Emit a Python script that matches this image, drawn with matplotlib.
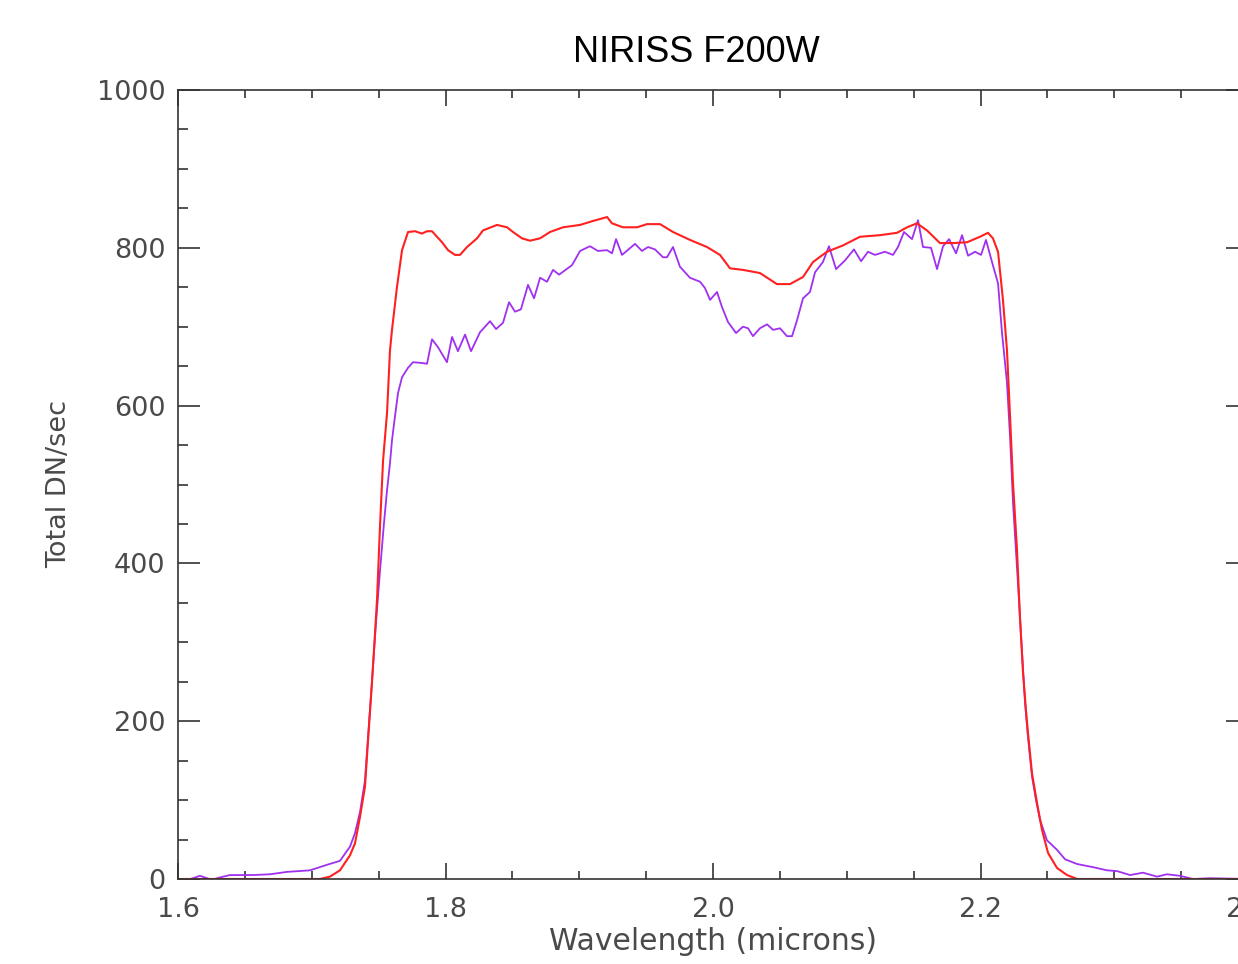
import matplotlib
matplotlib.use("Agg")
import matplotlib.pyplot as plt
from matplotlib.ticker import MultipleLocator

# model (red) throughput curve
red_wl = [1.6000, 1.7062, 1.7136, 1.7211, 1.7286, 1.7323, 1.7361, 1.7398, 1.7421,
          1.7450, 1.7473, 1.7488, 1.7510, 1.7533, 1.7563, 1.7585, 1.7600, 1.7637,
          1.7675, 1.7720, 1.7772, 1.7824, 1.7862, 1.7899, 1.7974, 1.8019, 1.8071,
          1.8108, 1.8161, 1.8236, 1.8280, 1.8385, 1.8460, 1.8505, 1.8572, 1.8632,
          1.8707, 1.8781, 1.8879, 1.9006, 1.9103, 1.9208, 1.9245, 1.9327, 1.9432,
          1.9507, 1.9604, 1.9701, 1.9828, 1.9955, 2.0052, 2.0127, 2.0224, 2.0351,
          2.0478, 2.0576, 2.0673, 2.0748, 2.0852, 2.0972, 2.1099, 2.1249, 2.1376,
          2.1451, 2.1525, 2.1600, 2.1697, 2.1794, 2.1899, 2.1996, 2.2056, 2.2093,
          2.2131, 2.2168, 2.2198, 2.2221, 2.2243, 2.2273, 2.2295, 2.2318, 2.2340,
          2.2355, 2.2385, 2.2423, 2.2460, 2.2505, 2.2572, 2.2647, 2.2722, 2.4000]
red_dn = [0, 0, 3, 11, 30, 45, 79, 117, 176,
          248, 312, 354, 446, 530, 591, 670, 696, 750,
          797, 820, 821, 818, 821, 821, 807, 797, 791,
          791, 801, 812, 822, 829, 826, 820, 812, 809,
          812, 820, 826, 829, 834, 839, 831, 826, 826,
          830, 830, 820, 810, 801, 791, 774, 772, 768,
          754, 754, 763, 782, 795, 803, 814, 816, 819,
          826, 831, 822, 806, 806, 807, 814, 819, 812,
          795, 734, 670, 586, 502, 417, 332, 261, 214,
          185, 134, 96, 62, 33, 14, 5, 0, 0]

# measured (purple) curve
pur_wl = [1.6000, 1.6075, 1.6164, 1.6254, 1.6314, 1.6389, 1.6561, 1.6688, 1.6815,
          1.6987, 1.7114, 1.7211, 1.7286, 1.7323, 1.7361, 1.7398, 1.7421, 1.7450,
          1.7480, 1.7510, 1.7540, 1.7563, 1.7585, 1.7600, 1.7622, 1.7645, 1.7675,
          1.7720, 1.7757, 1.7824, 1.7862, 1.7899, 1.7944, 1.8011, 1.8049, 1.8093,
          1.8146, 1.8191, 1.8258, 1.8333, 1.8378, 1.8430, 1.8475, 1.8520, 1.8564,
          1.8617, 1.8662, 1.8707, 1.8759, 1.8804, 1.8849, 1.8946, 1.9006, 1.9080,
          1.9140, 1.9208, 1.9245, 1.9275, 1.9320, 1.9417, 1.9469, 1.9514, 1.9566,
          1.9626, 1.9656, 1.9701, 1.9753, 1.9828, 1.9903, 1.9940, 1.9978, 2.0030,
          2.0067, 2.0112, 2.0172, 2.0224, 2.0262, 2.0299, 2.0351, 2.0404, 2.0449,
          2.0501, 2.0553, 2.0591, 2.0628, 2.0673, 2.0725, 2.0763, 2.0822, 2.0867,
          2.0920, 2.0987, 2.1054, 2.1107, 2.1159, 2.1211, 2.1286, 2.1346, 2.1383,
          2.1428, 2.1488, 2.1533, 2.1570, 2.1630, 2.1675, 2.1720, 2.1765, 2.1817,
          2.1862, 2.1907, 2.1959, 2.2004, 2.2041, 2.2086, 2.2131, 2.2161, 2.2198,
          2.2221, 2.2243, 2.2280, 2.2310, 2.2333, 2.2355, 2.2385, 2.2415, 2.2445,
          2.2497, 2.2572, 2.2632, 2.2722, 2.2841, 2.2946, 2.3021, 2.3118, 2.3215,
          2.3320, 2.3394, 2.3492, 2.3589, 2.3716, 2.4000]
pur_dn = [0, -1, 4, -1, 2, 5, 5, 6, 9,
          11, 18, 23, 41, 58, 85, 125, 180, 250,
          324, 390, 451, 493, 527, 556, 586, 616, 636,
          648, 655, 654, 653, 684, 674, 655, 687, 669,
          690, 669, 693, 707, 697, 705, 731, 719, 722,
          753, 736, 762, 757, 772, 766, 778, 796, 802,
          796, 797, 793, 811, 791, 805, 796, 801, 798,
          788, 788, 801, 776, 762, 757, 749, 734, 744,
          725, 706, 692, 700, 698, 688, 698, 703, 696,
          698, 688, 688, 708, 736, 744, 769, 782, 802,
          773, 784, 798, 783, 795, 791, 795, 791, 801,
          820, 811, 835, 801, 800, 773, 802, 811, 793,
          816, 790, 795, 791, 810, 782, 755, 692, 629,
          560, 477, 375, 290, 223, 180, 130, 100, 75,
          49, 37, 25, 19, 15, 11, 10, 5, 8,
          3, 6, 4, 0, 1, 0]

x_ticks = [1.6, 1.8, 2.0, 2.2, 2.4]
x_labels = ["1.6", "1.8", "2.0", "2.2", "2.4"]
y_ticks = [0, 200, 400, 600, 800, 1000]

ink = "#333333"
txt = "#4a4a4a"

fig = plt.figure(figsize=(12.38, 9.64), dpi=100)
ax = fig.add_axes([178 / 1238, 85 / 964, 1070 / 1238, 789 / 964])

ax.plot(pur_wl, pur_dn, color="#a030f0", lw=1.3)
ax.plot(red_wl, red_dn, color="#ff2020", lw=1.5)

ax.set_xlim(1.6, 2.4)
ax.set_ylim(0, 1000)
ax.set_xticks(x_ticks)
ax.set_xticklabels(x_labels)
ax.set_yticks(y_ticks)
ax.xaxis.set_minor_locator(MultipleLocator(0.05))
ax.yaxis.set_minor_locator(MultipleLocator(50))

ax.tick_params(which="both", direction="in", top=True, right=True,
               color=ink, width=1.2, labelcolor=txt, labelsize=19.5)
ax.tick_params(axis="x", which="major", length=11.5, pad=13)
ax.tick_params(axis="x", which="minor", length=6)
ax.tick_params(axis="y", which="major", length=16, pad=9)
ax.tick_params(axis="y", which="minor", length=7)
for s in ax.spines.values():
    s.set_color(ink)
    s.set_linewidth(1.2)

ax.set_xlabel("Wavelength (microns)", fontsize=21.5, color=txt, labelpad=3)
ax.set_ylabel("Total DN/sec", fontsize=19.5, color=txt, labelpad=18)

fig.text(696 / 1238, 1 - 52 / 964, "NIRISS F200W", family="Liberation Sans",
         fontsize=26, ha="center", va="center", color="black")

fig.savefig("out.png", dpi=100)
